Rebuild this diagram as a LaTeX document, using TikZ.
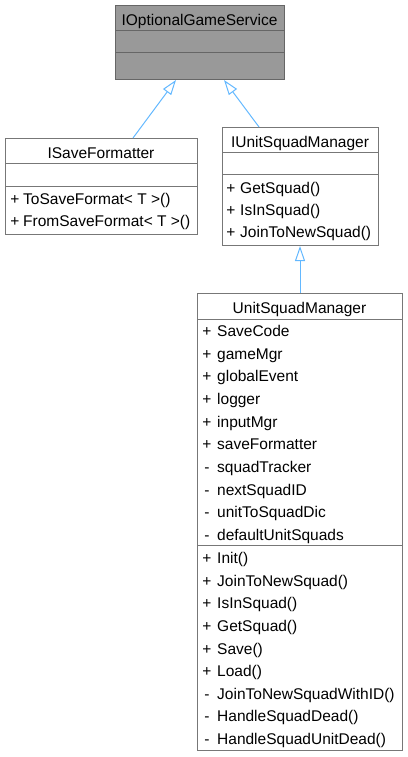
\documentclass[tikz,border=0pt]{standalone}
\usepackage{fontspec}
\setmainfont{Liberation Sans}
\usetikzlibrary{arrows.meta,calc}
\definecolor{edgeblue}{HTML}{63B8FF}
\definecolor{boxline}{HTML}{777777}
\definecolor{topfill}{HTML}{999999}
\definecolor{topline}{HTML}{666666}
\tikzset{
  umlbox/.style={draw=boxline, fill=white, line width=1pt, rectangle, inner sep=0pt, anchor=north west},
  topbox/.style={umlbox, draw=topline, fill=topfill},
  divider/.style={draw=boxline, line width=1pt},
  topdivider/.style={draw=topline, line width=1pt},
  ttl/.style={font=\fontsize{15.5}{18}\selectfont, inner sep=0pt, anchor=base},
  sym/.style={font=\fontsize{15.5}{18}\selectfont, inner sep=0pt, anchor=base},
  mem/.style={font=\fontsize{15.5}{18}\selectfont, inner sep=0pt, anchor=base west},
  inh/.style={draw=edgeblue, line width=1pt, -{Triangle[length=15pt, width=10pt, fill=white, line width=1pt]}},
}
\begin{document}
\begin{tikzpicture}[x=1pt, y=-1pt]
\useasboundingbox (0,0) rectangle (407,757);

% IOptionalGameService
\node[topbox, minimum width=169pt, minimum height=74pt] (top) at (115,5) {};
\draw[topdivider] (top.west |- 0,31) -- (top.east |- 0,31);
\draw[topdivider] (top.west |- 0,53) -- (top.east |- 0,53);
\node[ttl] (topt) at (199.5,25.5) {IOptionalGameService};

% ISaveFormatter
\node[umlbox, minimum width=192pt, minimum height=96pt] (sf) at (5,138) {};
\draw[divider] (sf.west |- 0,163) -- (sf.east |- 0,163);
\draw[divider] (sf.west |- 0,186) -- (sf.east |- 0,186);
\node[ttl] (sft) at (101,158.5) {ISaveFormatter};
\node[sym] (sfs1) at (15,204.5) {+};
\node[mem] (sfm1) at (23,204.5) {ToSaveFormat< T >()};
\node[sym] (sfs2) at (15,226.5) {+};
\node[mem] (sfm2) at (23,226.5) {FromSaveFormat< T >()};

% IUnitSquadManager
\node[umlbox, minimum width=156pt, minimum height=118pt] (ium) at (222,127) {};
\draw[divider] (ium.west |- 0,152) -- (ium.east |- 0,152);
\draw[divider] (ium.west |- 0,174) -- (ium.east |- 0,174);
\node[ttl] (iumt) at (300,147.5) {IUnitSquadManager};
\node[sym] (iums1) at (231,193.5) {+};
\node[mem] (iumm1) at (240,193.5) {GetSquad()};
\node[sym] (iums2) at (231,215.5) {+};
\node[mem] (iumm2) at (240,215.5) {IsInSquad()};
\node[sym] (iums3) at (231,237.5) {+};
\node[mem] (iumm3) at (240,237.5) {JoinToNewSquad()};

% UnitSquadManager
\node[umlbox, minimum width=205pt, minimum height=457pt] (usm) at (197,293) {};
\draw[divider] (usm.west |- 0,319) -- (usm.east |- 0,319);
\draw[divider] (usm.west |- 0,545) -- (usm.east |- 0,545);
\node[ttl] (usmt) at (299.5,313.5) {UnitSquadManager};
\foreach \s/\m [count=\i from 0] in {+/SaveCode, +/gameMgr, +/globalEvent, +/logger, +/inputMgr, +/saveFormatter, -/squadTracker, -/nextSquadID, -/unitToSquadDic, -/defaultUnitSquads}{
  \node[sym] (usma\i s) at (207,{336.5+22.67*\i}) {\s};
  \node[mem] (usma\i) at (217,{336.5+22.67*\i}) {\m};
}
\foreach \s/\m [count=\i from 0] in {+/Init(), +/JoinToNewSquad(), +/IsInSquad(), +/GetSquad(), +/Save(), +/Load(), -/JoinToNewSquadWithID(), -/HandleSquadDead(), -/HandleSquadUnitDead()}{
  \node[sym] (usmo\i s) at (207,{563.5+22.63*\i}) {\s};
  \node[mem] (usmo\i) at (217,{563.5+22.63*\i}) {\m};
}

% inheritance connectors
\draw[inh] ($(sf.north west)+(128,0)$) -- ($(top.south west)+(61,0)$);
\draw[inh] ($(ium.north west)+(37,0)$) -- ($(top.south west)+(109,0)$);
\draw[inh] (usm.north -| 300,0) -- (ium.south -| 300,0);
\end{tikzpicture}
\end{document}
